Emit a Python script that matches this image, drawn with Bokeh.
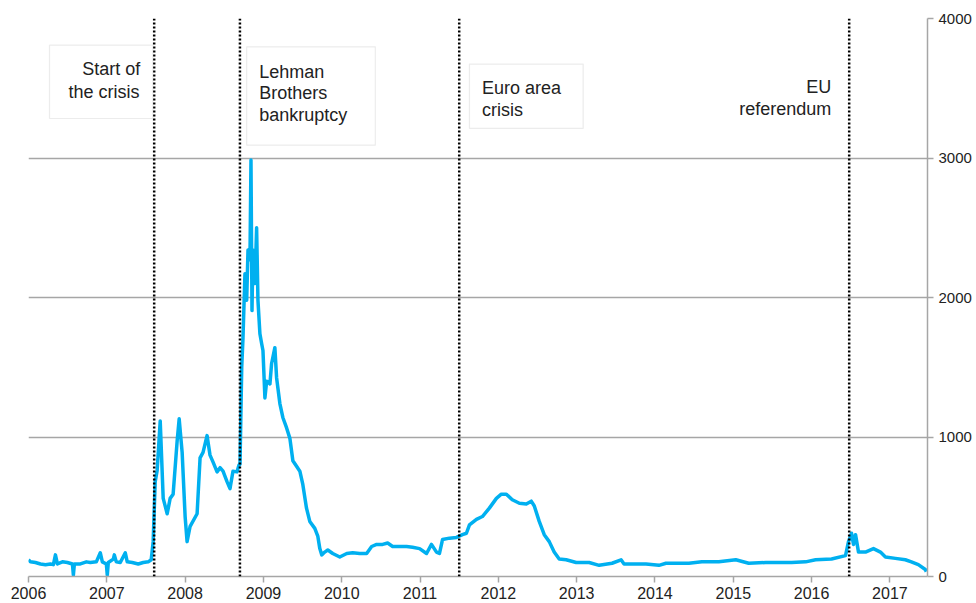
from bokeh.plotting import figure
from bokeh.models import Range1d, FixedTicker, Span, BoxAnnotation, Label
from bokeh.embed import file_html
from bokeh.resources import INLINE

# ---- data -------------------------------------------------------------
years = [
    2006.000, 2006.025, 2006.089, 2006.153, 2006.217, 2006.280, 2006.318, 2006.344,
    2006.369, 2006.433, 2006.497, 2006.561, 2006.573, 2006.586, 2006.662, 2006.739,
    2006.790, 2006.866, 2006.917, 2006.943, 2006.994, 2007.006, 2007.019, 2007.083,
    2007.096, 2007.121, 2007.172, 2007.236, 2007.261, 2007.325, 2007.401, 2007.465,
    2007.529, 2007.567, 2007.592, 2007.618, 2007.643, 2007.682, 2007.720, 2007.771,
    2007.809, 2007.847, 2007.898, 2007.924, 2007.962, 2008.000, 2008.025, 2008.064,
    2008.153, 2008.191, 2008.229, 2008.280, 2008.318, 2008.357, 2008.408, 2008.446,
    2008.484, 2008.535, 2008.573, 2008.611, 2008.662, 2008.688, 2008.701, 2008.723,
    2008.739, 2008.764, 2008.786, 2008.803, 2008.828, 2008.841, 2008.854, 2008.866,
    2008.892, 2008.913, 2008.930, 2008.955, 2008.977, 2008.994, 2009.019, 2009.041,
    2009.083, 2009.104, 2009.146, 2009.168, 2009.210, 2009.248, 2009.296, 2009.338,
    2009.376, 2009.423, 2009.465, 2009.503, 2009.550, 2009.592, 2009.656, 2009.694,
    2009.720, 2009.745, 2009.783, 2009.822, 2009.885, 2009.975, 2010.064, 2010.140,
    2010.229, 2010.318, 2010.382, 2010.446, 2010.522, 2010.586, 2010.650, 2010.739,
    2010.828, 2010.904, 2010.994, 2011.083, 2011.146, 2011.210, 2011.248, 2011.287,
    2011.376, 2011.465, 2011.541, 2011.592, 2011.631, 2011.720, 2011.796, 2011.885,
    2011.975, 2012.038, 2012.102, 2012.178, 2012.268, 2012.357, 2012.420, 2012.459,
    2012.522, 2012.586, 2012.650, 2012.713, 2012.777, 2012.866, 2012.994, 2013.159,
    2013.287, 2013.452, 2013.567, 2013.605, 2013.885, 2014.051, 2014.140, 2014.433,
    2014.599, 2014.815, 2015.032, 2015.197, 2015.414, 2015.580, 2015.745, 2015.924,
    2016.051, 2016.255, 2016.433, 2016.471, 2016.510, 2016.535, 2016.561, 2016.599,
    2016.688, 2016.790, 2016.879, 2016.943, 2017.070, 2017.197, 2017.274, 2017.363,
    2017.452, 2017.465,
]
values = [
    120, 105, 100, 90, 85, 90, 85, 155,
    90, 105, 100, 90, 10, 90, 90, 105,
    100, 105, 170, 105, 90, 10, 100, 125,
    155, 105, 100, 170, 105, 100, 90, 100,
    105, 120, 250, 680, 760, 1115, 560, 450,
    560, 590, 970, 1130, 890, 430, 250, 360,
    450, 850, 890, 1010, 870, 820, 750, 780,
    755, 680, 630, 755, 750, 800, 805, 1500,
    1710, 2170, 1980, 2340, 2270, 2985, 1906, 2340,
    2100, 2500, 1980, 1740, 1670, 1620, 1280, 1400,
    1380, 1525, 1640, 1425, 1240, 1140, 1065, 990,
    830, 790, 755, 660, 490, 395, 345, 290,
    200, 155, 175, 190, 165, 140, 165, 170,
    165, 165, 215, 230, 230, 240, 215, 215,
    215, 210, 200, 165, 230, 175, 165, 265,
    275, 280, 300, 310, 370, 410, 430, 490,
    560, 590, 590, 550, 525, 520, 540, 505,
    395, 300, 250, 175, 125, 120, 100, 100,
    80, 95, 120, 90, 90, 80, 95, 95,
    105, 105, 120, 95, 100, 100, 100, 105,
    120, 125, 150, 250, 310, 230, 300, 175,
    175, 200, 175, 140, 130, 120, 105, 85,
    50, 35,
]
event_dates = [2007.605, 2008.700, 2011.500, 2016.480]
x_ticks = list(range(2006, 2018))
y_ticks = [0, 1000, 2000, 3000, 4000]

FONT = "Liberation Sans"
TXT = "#222222"
GRID = "#a6a6a6"

p = figure(width=974, height=601, output_backend="svg", toolbar_location=None,
           x_range=Range1d(2006, 2017.48), y_range=Range1d(0, 4000),
           y_axis_location="right",
           min_border_left=28, min_border_top=18, min_border_right=0,
           min_border_bottom=0)
p.outline_line_color = None
p.background_fill_color = "white"

# axes
p.xaxis.ticker = FixedTicker(ticks=x_ticks)
p.yaxis.ticker = FixedTicker(ticks=y_ticks)
for ax in (p.xaxis, p.yaxis):
    ax.axis_line_color = GRID
    ax.axis_line_width = 1.5
    ax.major_tick_line_color = GRID
    ax.major_tick_line_width = 1.5
    ax.major_tick_out = 6
    ax.major_tick_in = 0
    ax.minor_tick_line_color = None
    ax.major_label_text_font = FONT
    ax.major_label_text_color = TXT
p.xaxis.major_label_text_font_size = "16px"
p.yaxis.major_label_text_font_size = "15px"
p.xaxis.major_label_standoff = 4
p.yaxis.major_label_standoff = 5

p.xgrid.visible = False
p.ygrid.ticker = FixedTicker(ticks=y_ticks)
p.ygrid.grid_line_color = GRID
p.ygrid.grid_line_width = 1.5

# series
p.line(years, values, line_color="#00B0F0", line_width=3.5, line_join="round")

# event lines
for d in event_dates:
    p.add_layout(Span(location=d, dimension="height", line_color="black",
                      line_width=2.5, line_dash="2 2"))

# annotation boxes
boxes = [
    (2006.268, 2007.588, 3809, 3283),
    (2008.786, 2010.429, 3797, 3092),
    (2011.631, 2013.083, 3673, 3212),
]
for l, r, t, b in boxes:
    p.add_layout(BoxAnnotation(left=l, right=r, top=t, bottom=b,
                               fill_color="white", fill_alpha=1.0,
                               line_color="#bfbfbf", line_width=1.2))

labels = [
    ("Start of", 2007.427, 3635, "right"),
    ("the crisis", 2007.418, 3470, "right"),
    ("Lehman", 2008.947, 3618, "left"),
    ("Brothers", 2008.947, 3463, "left"),
    ("bankruptcy", 2008.947, 3308, "left"),
    ("Euro area", 2011.792, 3503, "left"),
    ("crisis", 2011.792, 3343, "left"),
    ("EU", 2016.251, 3510, "right"),
    ("referendum", 2016.251, 3348, "right"),
]
for txt, x, y, al in labels:
    p.add_layout(Label(x=x, y=y, text=txt, text_align=al,
                       text_baseline="alphabetic", text_font=FONT,
                       text_font_size="18px", text_color=TXT))

open("out.html", "w").write(file_html(p, INLINE))
